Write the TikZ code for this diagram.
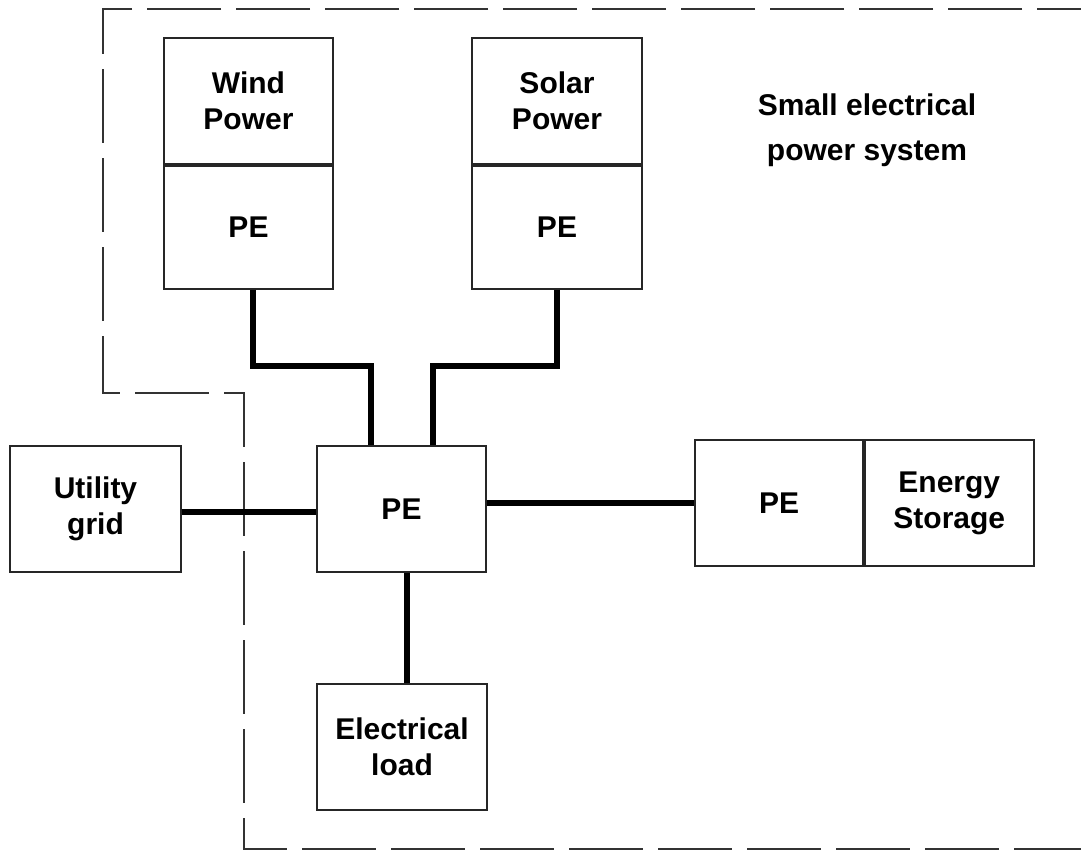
\documentclass[tikz,border=0pt]{standalone}
\usepackage{fontspec}
\setmainfont{Liberation Sans}
\begin{document}
\begin{tikzpicture}[x=1pt,y=-1pt,
  box/.style={draw=black!85, line width=1.8pt, inner sep=0pt, align=center,
    font=\fontsize{30}{36}\selectfont\bfseries},
  conn/.style={draw=black, line width=6pt},
  boundary/.style={draw=black!80, line width=2.2pt, dash pattern=on 74pt off 15pt, dash phase=30pt}
]
\useasboundingbox (0,0) rectangle (1081,852);
\fill[white] (0,0) rectangle (1081,852);

% boundary of the small system
\draw[boundary] (1081,9) -- (103,9) -- (103,393) -- (244,393) -- (244,849) -- (1081,849);

% wind
\node[box, minimum width=169, minimum height=126] (windtop) at (248.5,101) {Wind\\Power};
\node[box, minimum width=169, minimum height=123, anchor=north] (windpe) at (windtop.south) {PE};
% solar
\node[box, minimum width=170, minimum height=126] (solartop) at (557,101) {Solar\\Power};
\node[box, minimum width=170, minimum height=123, anchor=north] (solarpe) at (solartop.south) {PE};
% central PE
\node[box, minimum width=169, minimum height=126] (pe) at (401.5,509) {PE};
% utility grid
\node[box, minimum width=171, minimum height=126] (grid) at (95.5,509) {Utility\\grid};
% storage
\node[box, minimum width=168, minimum height=126] (stpe) at (779,503) {PE};
\node[box, minimum width=169, minimum height=126, anchor=west] (store) at (stpe.east) {Energy\\Storage};
% load
\node[box, minimum width=170, minimum height=126] (load) at (402,747) {Electrical\\load};
% system label
\node[align=center, font=\fontsize{30}{45}\selectfont\bfseries] (label) at (867,130) {Small electrical\\power system};

\coordinate (pin1) at ([xshift=-31pt]pe.north);
\coordinate (pin2) at ([xshift=31pt]pe.north);

\draw[conn] ([xshift=4pt]windpe.south) -- ++(0,76) -| (pin1);
\draw[conn] (solarpe.south) -- ++(0,76) -| (pin2);
\draw[conn] ([yshift=-3pt]grid.east) -- ([yshift=-3pt]pe.west);
\draw[conn] (pe.east |- stpe.west) -- (stpe.west);
\draw[conn] ([xshift=5pt]pe.south) -- ([xshift=5pt]pe.south |- load.north);
\end{tikzpicture}
\end{document}
